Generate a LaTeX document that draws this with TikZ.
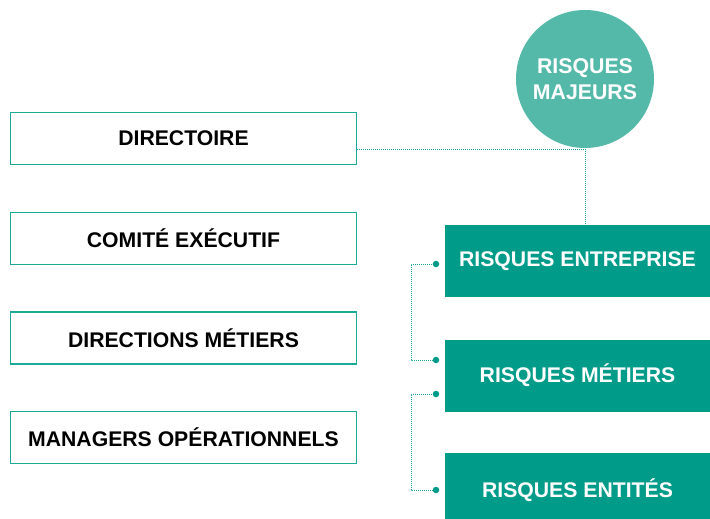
\documentclass[tikz,border=0pt]{standalone}
\usepackage{fontspec}
\setmainfont{Liberation Sans}
\definecolor{tealdark}{HTML}{009B89}
\definecolor{teallight}{HTML}{55B9AA}
\definecolor{tealline}{HTML}{1AA898}
\begin{document}
\begin{tikzpicture}[x=1pt,y=-1pt,
  leftbox/.style={draw=tealline,line width=1.2pt,minimum width=346pt,minimum height=52pt,inner sep=0pt,font=\fontsize{21.2pt}{24pt}\bfseries,text=black},
  rightbox/.style={fill=tealdark,minimum width=265pt,minimum height=72pt,inner sep=0pt,font=\fontsize{21.2pt}{24pt}\bfseries,text=white},
  dotline/.style={draw=tealline,line width=1pt,dash pattern=on 1pt off 1pt},
  enddot/.style={fill=tealdark,circle,inner sep=0pt,minimum size=6.5pt}]
\useasboundingbox (0,0) rectangle (710,519);
\node[leftbox] (dir) at (183.5,138.5) {DIRECTOIRE};
\node[leftbox] (com) at (183.5,238.5) {COMITÉ EXÉCUTIF};
\node[leftbox] (dm) at (183.5,338) {DIRECTIONS MÉTIERS};
\node[leftbox] (man) at (183.5,437.5) {MANAGERS OPÉRATIONNELS};
\node[circle,fill=teallight,minimum size=138pt,inner sep=0pt,text=white,align=center,font=\fontsize{21.3pt}{26pt}\bfseries] (maj) at (585,79) {RISQUES\\MAJEURS};
\node[rightbox] (ent) at (577.5,261) {RISQUES ENTREPRISE};
\node[rightbox] (met) at (577.5,375.5) {RISQUES MÉTIERS};
\fill[tealdark] (445,453) rectangle (710,519);
\node[text=white,font=\fontsize{21.2pt}{24pt}\bfseries] (eti) at (577.5,490) {RISQUES ENTITÉS};
\coordinate (a) at (357,149);
\coordinate (b) at (585,149);
\coordinate (c) at (585,225);
\draw[dotline] (a) -- (b) -- (c);
\coordinate (d1) at (436,264);
\coordinate (d2) at (436,360);
\coordinate (d3) at (436,394);
\coordinate (d4) at (436,490);
\draw[dotline] (d1) -- (411,264) -- (411,360) -- (d2);
\draw[dotline] (d3) -- (411,394) -- (411,490) -- (d4);
\node[enddot] at (d1) {};
\node[enddot] at (d2) {};
\node[enddot] at (d3) {};
\node[enddot] at (d4) {};
\end{tikzpicture}
\end{document}
